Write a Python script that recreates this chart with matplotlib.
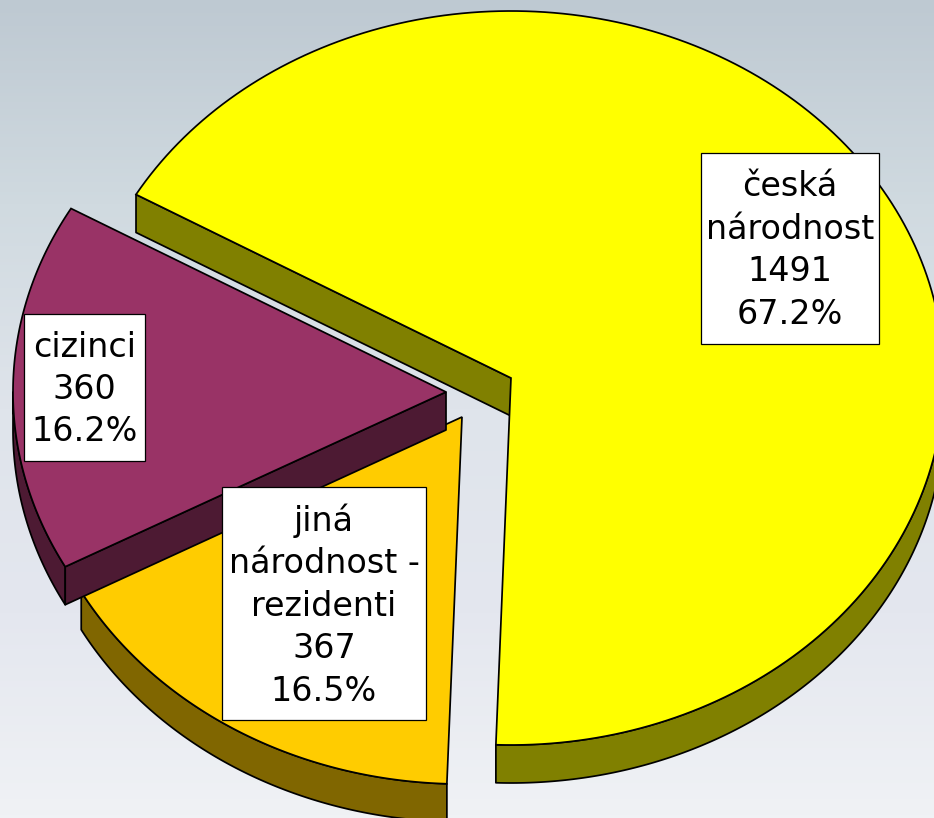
import numpy as np
import matplotlib
matplotlib.use("Agg")
import matplotlib.pyplot as plt
from matplotlib.colors import LinearSegmentedColormap
from matplotlib.patches import Rectangle

categories = ["česká\nnárodnost", "jiná\nnárodnost -\nrezidenti", "cizinci"]
values = [1491, 367, 360]

top_colors = ["#ffff00", "#ffcc00", "#993366"]
side_colors = ["#808000", "#806600", "#4d1a33"]
centers = [(511, 378), (462, 417), (446, 392)]
boxes = [(701, 153, 178, 191), (222, 487, 204, 233), (24, 314, 121, 147)]
bg_colors = ["#bec9d2", "#d0dae0", "#dfe4eb", "#e4e7ef", "#f0f2f5"]

RX, RY = 433, 367
DEPTH = 38
START = 150.0


def arc(center, a0, a1, dy=0):
    t = np.radians(np.linspace(a0, a1, 200))
    return center[0] + RX * np.cos(t), center[1] - RY * np.sin(t) + dy


def side(ax, xs, ys, color):
    ax.fill(
        np.r_[xs, xs[::-1]],
        np.r_[ys, ys[::-1] + DEPTH],
        facecolor=color,
        edgecolor="black",
        lw=1.25,
        joinstyle="round",
    )


fig = plt.figure(figsize=(9.34, 8.18), dpi=100)
ax = fig.add_axes([0, 0, 1, 1])
ax.set_xlim(0, 934)
ax.set_ylim(818, 0)
ax.axis("off")

cmap = LinearSegmentedColormap.from_list("bg", bg_colors)
ax.imshow(
    np.linspace(0, 1, 256).reshape(-1, 1),
    cmap=cmap,
    extent=(0, 934, 818, 0),
    aspect="auto",
    zorder=0,
)

total = sum(values)
sweeps = [v / total * 360 for v in values]
a0 = START
for i, sweep in enumerate(sweeps):
    a1 = a0 - sweep
    c = centers[i]
    xs, ys = arc(c, a0, a1)

    # only the faces turned to the viewer get drawn
    if i == 0:
        side(ax, np.array([xs[0], c[0]]), np.array([ys[0], c[1]]), side_colors[i])
        xf, yf = arc(c, 0, a1)
        side(ax, xf, yf, side_colors[i])
    elif i == 1:
        side(ax, xs, ys, side_colors[i])
    else:
        xf, yf = arc(c, a0, -180)
        side(ax, xf, yf, side_colors[i])
        side(ax, np.array([xs[0], c[0]]), np.array([ys[0], c[1]]), side_colors[i])

    ax.fill(
        np.r_[c[0], xs],
        np.r_[c[1], ys],
        facecolor=top_colors[i],
        edgecolor="black",
        lw=1.25,
        joinstyle="miter",
    )
    a0 = a1

for name, value, box in zip(categories, values, boxes):
    x, y, w, h = box
    ax.add_patch(Rectangle((x, y), w, h, facecolor="white", edgecolor="black", lw=0.9, zorder=5))
    label = f"{name}\n{value}\n{value / total * 100:.1f}%"
    ax.text(
        x + w / 2,
        y + h / 2 + 2,
        label,
        ha="center",
        va="center",
        ma="center",
        fontsize=24,
        color="black",
        linespacing=1.365,
        zorder=6,
    )

plt.savefig("out.png", dpi=100)
